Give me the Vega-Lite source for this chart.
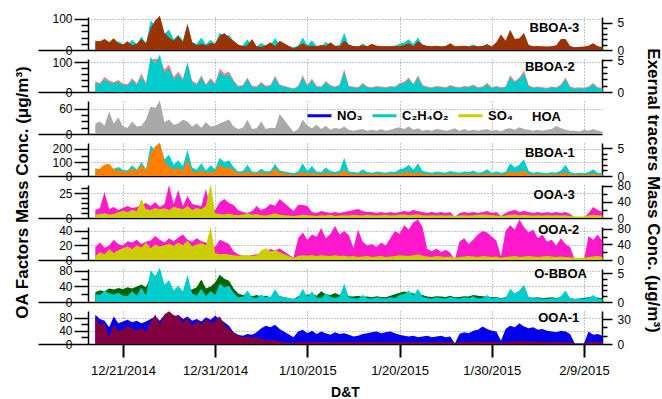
{
"$schema": "https://vega.github.io/schema/vega-lite/v6.json",
"padding": {"left": 12, "top": 12, "right": 0, "bottom": 0},
"background": "white",
"config": {
 "font": "Liberation Sans",
 "view": {"stroke": null},
 "axis": {"labelFont": "Liberation Sans", "labelFontSize": 12, "labelColor": "#000", "tickColor": "#000", "domainColor": "#000", "tickWidth": 1.5, "domainWidth": 1.5, "titleFont": "Liberation Sans", "titleFontSize": 17, "titleFontWeight": "bold", "titleColor": "#000", "gridColor": "#8c8c8c", "gridDash": [1, 2], "gridWidth": 1, "gridOpacity": 1},
 "text": {"font": "Liberation Sans", "fontSize": 13, "fontWeight": "bold", "align": "right", "baseline": "middle", "color": "#000"}
},
"datasets": {
"leg": [{"s": "NO₃"}, {"s": "C₂H₄O₂"}, {"s": "SO₄"}],
"d": [
{"t":"2014-12-18T00:00","b3":30,"b2":36,"h":25,"b1":45,"o3":8,"s3":8,"o2":18,"s2":10,"ob":25,"c":1.4,"o1":85,"n":35},
{"t":"2014-12-18T12:00","b3":28,"b2":30,"h":30,"b1":55,"o3":10,"s3":10,"o2":24,"s2":20,"ob":30,"c":1.2,"o1":60,"n":30},
{"t":"2014-12-19T00:00","b3":35,"b2":50,"h":20,"b1":84,"o3":26,"s3":12,"o2":17,"s2":15,"ob":28,"c":2.0,"o1":64,"n":28},
{"t":"2014-12-19T12:00","b3":25,"b2":38,"h":54,"b1":90,"o3":9,"s3":9,"o2":20,"s2":28,"ob":35,"c":1.5,"o1":18,"n":20},
{"t":"2014-12-20T00:00","b3":38,"b2":33,"h":25,"b1":50,"o3":11,"s3":10,"o2":28,"s2":18,"ob":32,"c":1.3,"o1":60,"n":33},
{"t":"2014-12-20T12:00","b3":22,"b2":40,"h":40,"b1":40,"o3":8,"s3":14,"o2":22,"s2":25,"ob":36,"c":1.6,"o1":39,"n":25},
{"t":"2014-12-21T00:00","b3":18,"b2":28,"h":18,"b1":35,"o3":10,"s3":18,"o2":20,"s2":30,"ob":33,"c":1.1,"o1":45,"n":27},
{"t":"2014-12-21T12:00","b3":28,"b2":26,"h":15,"b1":30,"o3":12,"s3":15,"o2":26,"s2":35,"ob":38,"c":1.0,"o1":55,"n":29},
{"t":"2014-12-22T00:00","b3":15,"b2":46,"h":30,"b1":60,"o3":10,"s3":20,"o2":24,"s2":28,"ob":35,"c":1.9,"o1":48,"n":26},
{"t":"2014-12-22T12:00","b3":20,"b2":28,"h":18,"b1":35,"o3":11,"s3":17,"o2":28,"s2":38,"ob":40,"c":1.1,"o1":40,"n":28},
{"t":"2014-12-23T00:00","b3":35,"b2":62,"h":20,"b1":84,"o3":13,"s3":47,"o2":22,"s2":32,"ob":45,"c":2.5,"o1":50,"n":25},
{"t":"2014-12-23T12:00","b3":22,"b2":30,"h":35,"b1":40,"o3":15,"s3":22,"o2":25,"s2":45,"ob":38,"c":1.2,"o1":38,"n":27},
{"t":"2014-12-24T00:00","b3":70,"b2":105,"h":66,"b1":170,"o3":12,"s3":20,"o2":27,"s2":30,"ob":66,"c":5.5,"o1":65,"n":30},
{"t":"2014-12-24T12:00","b3":95,"b2":112,"h":62,"b1":220,"o3":16,"s3":25,"o2":33,"s2":40,"ob":55,"c":4.5,"o1":90,"n":33},
{"t":"2014-12-25T00:00","b3":110,"b2":108,"h":80,"b1":245,"o3":11,"s3":22,"o2":28,"s2":35,"ob":60,"c":5.9,"o1":60,"n":28},
{"t":"2014-12-25T12:00","b3":55,"b2":75,"h":28,"b1":110,"o3":14,"s3":24,"o2":24,"s2":38,"ob":35,"c":3.0,"o1":90,"n":35},
{"t":"2014-12-26T00:00","b3":40,"b2":92,"h":35,"b1":70,"o3":33,"s3":20,"o2":30,"s2":42,"ob":30,"c":3.8,"o1":100,"n":30},
{"t":"2014-12-26T12:00","b3":30,"b2":50,"h":22,"b1":50,"o3":14,"s3":28,"o2":26,"s2":36,"ob":28,"c":2.0,"o1":88,"n":32},
{"t":"2014-12-27T00:00","b3":45,"b2":68,"h":25,"b1":60,"o3":28,"s3":25,"o2":31,"s2":45,"ob":32,"c":2.8,"o1":85,"n":35},
{"t":"2014-12-27T12:00","b3":25,"b2":45,"h":34,"b1":40,"o3":12,"s3":22,"o2":35,"s2":38,"ob":25,"c":1.8,"o1":65,"n":30},
{"t":"2014-12-28T00:00","b3":85,"b2":95,"h":30,"b1":120,"o3":22,"s3":30,"o2":28,"s2":50,"ob":35,"c":4.7,"o1":80,"n":33},
{"t":"2014-12-28T12:00","b3":25,"b2":38,"h":18,"b1":35,"o3":14,"s3":20,"o2":25,"s2":35,"ob":32,"c":1.5,"o1":55,"n":28},
{"t":"2014-12-29T00:00","b3":15,"b2":28,"h":25,"b1":27,"o3":13,"s3":25,"o2":30,"s2":40,"ob":38,"c":1.1,"o1":70,"n":30},
{"t":"2014-12-29T12:00","b3":20,"b2":56,"h":15,"b1":40,"o3":12,"s3":22,"o2":26,"s2":44,"ob":58,"c":2.3,"o1":60,"n":27},
{"t":"2014-12-30T00:00","b3":15,"b2":26,"h":28,"b1":25,"o3":29,"s3":30,"o2":24,"s2":38,"ob":35,"c":1.0,"o1":75,"n":32},
{"t":"2014-12-30T12:00","b3":22,"b2":47,"h":18,"b1":30,"o3":10,"s3":85,"o2":20,"s2":85,"ob":40,"c":1.9,"o1":65,"n":29},
{"t":"2014-12-31T00:00","b3":20,"b2":30,"h":20,"b1":35,"o3":8,"s3":12,"o2":18,"s2":18,"ob":50,"c":1.2,"o1":70,"n":34},
{"t":"2014-12-31T12:00","b3":45,"b2":78,"h":25,"b1":84,"o3":16,"s3":10,"o2":28,"s2":15,"ob":70,"c":3.2,"o1":85,"n":30},
{"t":"2015-01-01T00:00","b3":55,"b2":62,"h":30,"b1":60,"o3":19,"s3":9,"o2":25,"s2":16,"ob":60,"c":2.5,"o1":60,"n":26},
{"t":"2015-01-01T12:00","b3":40,"b2":68,"h":35,"b1":65,"o3":15,"s3":11,"o2":22,"s2":14,"ob":55,"c":2.8,"o1":45,"n":22},
{"t":"2015-01-02T00:00","b3":30,"b2":40,"h":18,"b1":40,"o3":13,"s3":8,"o2":12,"s2":12,"ob":35,"c":1.6,"o1":35,"n":14},
{"t":"2015-01-02T12:00","b3":18,"b2":21,"h":12,"b1":22,"o3":8,"s3":7,"o2":8,"s2":11,"ob":22,"c":0.8,"o1":25,"n":11},
{"t":"2015-01-03T00:00","b3":12,"b2":23,"h":15,"b1":20,"o3":6,"s3":9,"o2":6,"s2":12,"ob":18,"c":0.9,"o1":20,"n":10},
{"t":"2015-01-03T12:00","b3":15,"b2":48,"h":34,"b1":35,"o3":5,"s3":12,"o2":5,"s2":13,"ob":20,"c":2.0,"o1":22,"n":12},
{"t":"2015-01-04T00:00","b3":35,"b2":21,"h":12,"b1":18,"o3":7,"s3":8,"o2":7,"s2":11,"ob":15,"c":0.8,"o1":18,"n":11},
{"t":"2015-01-04T12:00","b3":12,"b2":19,"h":14,"b1":22,"o3":12,"s3":10,"o2":8,"s2":12,"ob":18,"c":0.7,"o1":20,"n":14},
{"t":"2015-01-05T00:00","b3":10,"b2":33,"h":30,"b1":25,"o3":8,"s3":7,"o2":6,"s2":25,"ob":14,"c":1.3,"o1":15,"n":19},
{"t":"2015-01-05T12:00","b3":15,"b2":21,"h":12,"b1":20,"o3":10,"s3":6,"o2":12,"s2":30,"ob":16,"c":0.8,"o1":12,"n":22},
{"t":"2015-01-06T00:00","b3":25,"b2":23,"h":15,"b1":22,"o3":14,"s3":9,"o2":15,"s2":22,"ob":12,"c":0.9,"o1":10,"n":20},
{"t":"2015-01-06T12:00","b3":12,"b2":54,"h":14,"b1":60,"o3":12,"s3":12,"o2":13,"s2":26,"ob":20,"c":2.2,"o1":12,"n":23},
{"t":"2015-01-07T00:00","b3":30,"b2":25,"h":48,"b1":25,"o3":19,"s3":8,"o2":16,"s2":20,"ob":15,"c":1.0,"o1":8,"n":18},
{"t":"2015-01-08T12:00","b3":5,"b2":12,"h":5,"b1":10,"o3":7,"s3":5,"o2":3,"s2":5,"ob":8,"c":0.5,"o1":3,"n":8},
{"t":"2015-01-09T00:00","b3":12,"b2":20,"h":12,"b1":18,"o3":13,"s3":6,"o2":30,"s2":10,"ob":15,"c":0.8,"o1":6,"n":15},
{"t":"2015-01-09T12:00","b3":22,"b2":56,"h":35,"b1":30,"o3":13,"s3":8,"o2":38,"s2":12,"ob":20,"c":2.3,"o1":5,"n":17},
{"t":"2015-01-10T00:00","b3":13,"b2":23,"h":20,"b1":20,"o3":12,"s3":7,"o2":28,"s2":11,"ob":18,"c":0.9,"o1":6,"n":13},
{"t":"2015-01-10T12:00","b3":14,"b2":44,"h":14,"b1":22,"o3":6,"s3":6,"o2":35,"s2":13,"ob":22,"c":1.8,"o1":5,"n":16},
{"t":"2015-01-11T00:00","b3":12,"b2":21,"h":22,"b1":18,"o3":5,"s3":5,"o2":32,"s2":10,"ob":16,"c":0.8,"o1":7,"n":12},
{"t":"2015-01-11T12:00","b3":16,"b2":18,"h":12,"b1":15,"o3":7,"s3":7,"o2":44,"s2":12,"ob":28,"c":0.7,"o1":6,"n":15},
{"t":"2015-01-12T00:00","b3":13,"b2":37,"h":20,"b1":25,"o3":6,"s3":6,"o2":30,"s2":11,"ob":20,"c":1.5,"o1":5,"n":13},
{"t":"2015-01-12T12:00","b3":25,"b2":23,"h":10,"b1":18,"o3":5,"s3":8,"o2":36,"s2":10,"ob":18,"c":0.9,"o1":6,"n":11},
{"t":"2015-01-13T00:00","b3":14,"b2":18,"h":15,"b1":15,"o3":6,"s3":5,"o2":47,"s2":12,"ob":23,"c":0.7,"o1":5,"n":14},
{"t":"2015-01-13T12:00","b3":12,"b2":25,"h":12,"b1":20,"o3":5,"s3":6,"o2":35,"s2":10,"ob":18,"c":1.0,"o1":6,"n":12},
{"t":"2015-01-14T00:00","b3":30,"b2":76,"h":18,"b1":45,"o3":6,"s3":7,"o2":40,"s2":11,"ob":30,"c":3.2,"o1":7,"n":13},
{"t":"2015-01-14T12:00","b3":18,"b2":20,"h":10,"b1":20,"o3":7,"s3":6,"o2":34,"s2":9,"ob":15,"c":0.8,"o1":6,"n":11},
{"t":"2015-01-15T00:00","b3":13,"b2":18,"h":8,"b1":15,"o3":8,"s3":8,"o2":17,"s2":10,"ob":14,"c":0.7,"o1":5,"n":9},
{"t":"2015-01-15T12:00","b3":12,"b2":16,"h":10,"b1":14,"o3":9,"s3":7,"o2":42,"s2":8,"ob":16,"c":0.6,"o1":6,"n":10},
{"t":"2015-01-16T00:00","b3":15,"b2":30,"h":12,"b1":18,"o3":7,"s3":6,"o2":25,"s2":9,"ob":13,"c":1.2,"o1":7,"n":12},
{"t":"2015-01-16T12:00","b3":12,"b2":18,"h":8,"b1":15,"o3":6,"s3":8,"o2":20,"s2":10,"ob":14,"c":0.7,"o1":6,"n":13},
{"t":"2015-01-17T00:00","b3":20,"b2":16,"h":10,"b1":14,"o3":6,"s3":7,"o2":22,"s2":8,"ob":12,"c":0.6,"o1":5,"n":14},
{"t":"2015-01-17T12:00","b3":14,"b2":20,"h":8,"b1":16,"o3":5,"s3":6,"o2":18,"s2":9,"ob":15,"c":0.8,"o1":6,"n":15},
{"t":"2015-01-18T00:00","b3":12,"b2":18,"h":12,"b1":15,"o3":6,"s3":7,"o2":24,"s2":10,"ob":13,"c":0.7,"o1":7,"n":13},
{"t":"2015-01-18T12:00","b3":13,"b2":16,"h":8,"b1":13,"o3":5,"s3":8,"o2":20,"s2":8,"ob":12,"c":0.6,"o1":6,"n":14},
{"t":"2015-01-19T00:00","b3":11,"b2":20,"h":10,"b1":15,"o3":6,"s3":6,"o2":30,"s2":9,"ob":16,"c":0.8,"o1":5,"n":15},
{"t":"2015-01-19T12:00","b3":14,"b2":18,"h":14,"b1":14,"o3":5,"s3":7,"o2":40,"s2":10,"ob":20,"c":0.7,"o1":6,"n":13},
{"t":"2015-01-20T00:00","b3":12,"b2":30,"h":16,"b1":20,"o3":6,"s3":8,"o2":36,"s2":12,"ob":24,"c":1.2,"o1":5,"n":11},
{"t":"2015-01-20T12:00","b3":16,"b2":34,"h":12,"b1":22,"o3":7,"s3":9,"o2":48,"s2":11,"ob":27,"c":1.4,"o1":6,"n":10},
{"t":"2015-01-21T00:00","b3":22,"b2":48,"h":18,"b1":35,"o3":6,"s3":7,"o2":42,"s2":10,"ob":25,"c":2.0,"o1":5,"n":9},
{"t":"2015-01-21T12:00","b3":12,"b2":27,"h":10,"b1":18,"o3":8,"s3":8,"o2":52,"s2":12,"ob":22,"c":1.1,"o1":6,"n":10},
{"t":"2015-01-22T00:00","b3":28,"b2":56,"h":14,"b1":30,"o3":7,"s3":9,"o2":56,"s2":14,"ob":20,"c":2.3,"o1":5,"n":8},
{"t":"2015-01-22T12:00","b3":18,"b2":23,"h":8,"b1":16,"o3":6,"s3":7,"o2":45,"s2":11,"ob":18,"c":0.9,"o1":6,"n":9},
{"t":"2015-01-23T00:00","b3":13,"b2":18,"h":10,"b1":14,"o3":5,"s3":6,"o2":15,"s2":9,"ob":14,"c":0.7,"o1":5,"n":10},
{"t":"2015-01-23T12:00","b3":12,"b2":16,"h":8,"b1":12,"o3":6,"s3":7,"o2":12,"s2":8,"ob":13,"c":0.6,"o1":6,"n":8},
{"t":"2015-01-24T00:00","b3":14,"b2":20,"h":12,"b1":15,"o3":5,"s3":6,"o2":16,"s2":10,"ob":15,"c":0.8,"o1":5,"n":9},
{"t":"2015-01-24T12:00","b3":11,"b2":18,"h":10,"b1":13,"o3":6,"s3":7,"o2":11,"s2":9,"ob":14,"c":0.7,"o1":6,"n":10},
{"t":"2015-01-25T00:00","b3":13,"b2":16,"h":8,"b1":12,"o3":5,"s3":6,"o2":14,"s2":8,"ob":13,"c":0.6,"o1":5,"n":8},
{"t":"2015-01-25T12:00","b3":22,"b2":23,"h":10,"b1":15,"o3":6,"s3":7,"o2":10,"s2":9,"ob":16,"c":0.9,"o1":6,"n":9},
{"t":"2015-01-26T00:00","b3":12,"b2":18,"h":14,"b1":13,"o3":1,"s3":5,"o2":0.5,"s2":6,"ob":12,"c":0.7,"o1":2,"n":0.5},
{"t":"2015-01-26T12:00","b3":13,"b2":16,"h":8,"b1":12,"o3":5,"s3":6,"o2":25,"s2":8,"ob":13,"c":0.6,"o1":6,"n":12},
{"t":"2015-01-27T00:00","b3":14,"b2":20,"h":12,"b1":14,"o3":6,"s3":7,"o2":30,"s2":9,"ob":15,"c":0.8,"o1":7,"n":14},
{"t":"2015-01-27T12:00","b3":11,"b2":18,"h":8,"b1":12,"o3":5,"s3":6,"o2":22,"s2":10,"ob":14,"c":0.7,"o1":6,"n":13},
{"t":"2015-01-28T00:00","b3":14,"b2":25,"h":10,"b1":16,"o3":6,"s3":7,"o2":28,"s2":9,"ob":18,"c":1.0,"o1":7,"n":16},
{"t":"2015-01-28T12:00","b3":12,"b2":16,"h":8,"b1":12,"o3":5,"s3":8,"o2":35,"s2":8,"ob":16,"c":0.6,"o1":8,"n":17},
{"t":"2015-01-29T00:00","b3":13,"b2":18,"h":10,"b1":13,"o3":6,"s3":9,"o2":40,"s2":10,"ob":15,"c":0.7,"o1":7,"n":21},
{"t":"2015-01-29T12:00","b3":18,"b2":30,"h":12,"b1":18,"o3":7,"s3":8,"o2":38,"s2":9,"ob":14,"c":1.2,"o1":6,"n":18},
{"t":"2015-01-30T00:00","b3":11,"b2":16,"h":8,"b1":12,"o3":5,"s3":7,"o2":32,"s2":8,"ob":12,"c":0.6,"o1":7,"n":16},
{"t":"2015-01-30T12:00","b3":25,"b2":20,"h":10,"b1":14,"o3":6,"s3":6,"o2":27,"s2":9,"ob":13,"c":0.8,"o1":6,"n":15},
{"t":"2015-01-31T00:00","b3":50,"b2":16,"h":6,"b1":12,"o3":2,"s3":5,"o2":5,"s2":6,"ob":10,"c":0.6,"o1":2,"n":4},
{"t":"2015-01-31T12:00","b3":30,"b2":18,"h":12,"b1":14,"o3":5,"s3":6,"o2":40,"s2":8,"ob":12,"c":0.7,"o1":7,"n":18},
{"t":"2015-02-01T00:00","b3":65,"b2":56,"h":14,"b1":35,"o3":7,"s3":8,"o2":48,"s2":9,"ob":18,"c":2.3,"o1":8,"n":22},
{"t":"2015-02-01T12:00","b3":35,"b2":37,"h":10,"b1":25,"o3":8,"s3":9,"o2":42,"s2":10,"ob":15,"c":1.5,"o1":7,"n":20},
{"t":"2015-02-02T00:00","b3":38,"b2":48,"h":16,"b1":30,"o3":6,"s3":7,"o2":56,"s2":8,"ob":20,"c":2.0,"o1":9,"n":25},
{"t":"2015-02-02T12:00","b3":55,"b2":72,"h":12,"b1":40,"o3":7,"s3":8,"o2":45,"s2":9,"ob":16,"c":3.0,"o1":8,"n":21},
{"t":"2015-02-03T00:00","b3":16,"b2":23,"h":10,"b1":15,"o3":6,"s3":7,"o2":38,"s2":10,"ob":12,"c":0.9,"o1":7,"n":19},
{"t":"2015-02-03T12:00","b3":12,"b2":16,"h":8,"b1":12,"o3":5,"s3":6,"o2":42,"s2":9,"ob":11,"c":0.6,"o1":8,"n":20},
{"t":"2015-02-04T00:00","b3":13,"b2":18,"h":10,"b1":13,"o3":6,"s3":7,"o2":30,"s2":8,"ob":12,"c":0.7,"o1":7,"n":17},
{"t":"2015-02-04T12:00","b3":12,"b2":16,"h":8,"b1":12,"o3":5,"s3":6,"o2":35,"s2":9,"ob":10,"c":0.6,"o1":6,"n":18},
{"t":"2015-02-05T00:00","b3":11,"b2":14,"h":10,"b1":10,"o3":6,"s3":7,"o2":25,"s2":10,"ob":11,"c":0.5,"o1":7,"n":16},
{"t":"2015-02-05T12:00","b3":12,"b2":18,"h":12,"b1":12,"o3":5,"s3":6,"o2":28,"s2":9,"ob":12,"c":0.7,"o1":6,"n":15},
{"t":"2015-02-06T00:00","b3":15,"b2":16,"h":19,"b1":12,"o3":6,"s3":7,"o2":20,"s2":8,"ob":10,"c":0.6,"o1":5,"n":14},
{"t":"2015-02-06T12:00","b3":35,"b2":25,"h":14,"b1":18,"o3":5,"s3":6,"o2":30,"s2":9,"ob":12,"c":1.0,"o1":6,"n":16},
{"t":"2015-02-07T00:00","b3":35,"b2":48,"h":10,"b1":30,"o3":6,"s3":7,"o2":22,"s2":8,"ob":14,"c":2.0,"o1":5,"n":15},
{"t":"2015-02-07T12:00","b3":12,"b2":18,"h":8,"b1":12,"o3":4,"s3":5,"o2":18,"s2":7,"ob":10,"c":0.7,"o1":5,"n":12},
{"t":"2015-02-08T00:00","b3":9,"b2":14,"h":8,"b1":10,"o3":0.5,"s3":4,"o2":0.5,"s2":6,"ob":8,"c":0.5,"o1":1,"n":0.5},
{"t":"2015-02-08T12:00","b3":10,"b2":16,"h":6,"b1":11,"o3":0.5,"s3":4,"o2":0.5,"s2":6,"ob":9,"c":0.6,"o1":1,"n":0.5},
{"t":"2015-02-09T00:00","b3":11,"b2":14,"h":10,"b1":10,"o3":0.5,"s3":4,"o2":0.5,"s2":6,"ob":10,"c":0.5,"o1":1,"n":0.5},
{"t":"2015-02-09T12:00","b3":14,"b2":18,"h":8,"b1":12,"o3":5,"s3":6,"o2":33,"s2":8,"ob":12,"c":0.7,"o1":6,"n":15},
{"t":"2015-02-10T00:00","b3":22,"b2":30,"h":12,"b1":20,"o3":11,"s3":8,"o2":28,"s2":9,"ob":14,"c":1.2,"o1":7,"n":11},
{"t":"2015-02-10T12:00","b3":12,"b2":16,"h":8,"b1":12,"o3":8,"s3":7,"o2":35,"s2":10,"ob":11,"c":0.6,"o1":6,"n":12},
{"t":"2015-02-11T00:00","b3":10,"b2":14,"h":6,"b1":10,"o3":6,"s3":6,"o2":26,"s2":8,"ob":10,"c":0.5,"o1":5,"n":10}
]
},
"spacing": 9,
"bounds": "flush",
"resolve": {"scale": {"color": "independent"}, "legend": {"color": "independent"}},
"vconcat": [
{
 "width": 514, "height": 33, "data": {"name": "d"},
 "encoding": {"x": {"field": "t", "type": "temporal", "scale": {"domain": [{"year":2014,"month":12,"date":17,"hours":5},{"year":2015,"month":2,"date":10,"hours":23}]}, "axis": {"values": [{"year":2014,"month":12,"date":21},{"year":2014,"month":12,"date":31},{"year":2015,"month":1,"date":10},{"year":2015,"month":1,"date":20},{"year":2015,"month":1,"date":30},{"year":2015,"month":2,"date":9}], "labels": false, "ticks": false, "grid": true, "title": null}}},
 "resolve": {"scale": {"y": "independent"}},
 "layer": [
  {"mark": {"type": "area", "color": "#00cccc"}, "encoding": {"y": {"field": "c", "type": "quantitative", "scale": {"domain": [0, 6.1], "nice": false}, "axis": {"orient": "right", "values": [0, 5], "tickSize": 10, "labelPadding": 5, "grid": false, "title": null}}}},
  {"mark": {"type": "area", "color": "#993300"}, "encoding": {"y": {"field": "b3", "type": "quantitative", "scale": {"domain": [0, 106], "nice": false}, "axis": {"orient": "left", "values": [100], "tickSize": 14, "labelPadding": 2, "grid": true, "title": null}}}},
  {"data": {"values": [{}]}, "mark": "point", "encoding": {"y": {"datum": 0, "type": "quantitative", "scale": {"domain": [0, 106], "nice": false}, "axis": {"orient": "left", "values": [20, 40, 60, 80], "tickSize": 7, "labels": false, "domain": false, "grid": false, "title": null}}}},
  {"data": {"values": [{}]}, "mark": "point", "encoding": {"y": {"datum": 0, "type": "quantitative", "scale": {"domain": [0, 106], "nice": false}, "axis": {"orient": "left", "values": [0], "tickSize": 50, "labelPadding": -34, "domain": false, "grid": false, "title": null}}}},
  {"data": {"values": [{}]}, "mark": "point", "encoding": {"y": {"datum": 0, "type": "quantitative", "scale": {"domain": [0, 6.1], "nice": false}, "axis": {"orient": "right", "values": [1, 2, 3, 4], "tickSize": 5, "labels": false, "domain": false, "grid": false, "title": null}}}},
  {"transform": [{"filter": {"field": "t", "equal": {"year":2015,"month":2,"date":8,"hours":12}}}], "mark": {"type": "text", "text": "BBOA-3"}, "encoding": {"y": {"datum": 71, "type": "quantitative", "scale": {"domain": [0, 106], "nice": false}, "axis": null}}}
 ]
},
{
 "width": 514, "height": 33, "data": {"name": "d"},
 "encoding": {"x": {"field": "t", "type": "temporal", "scale": {"domain": [{"year":2014,"month":12,"date":17,"hours":5},{"year":2015,"month":2,"date":10,"hours":23}]}, "axis": {"values": [{"year":2014,"month":12,"date":21},{"year":2014,"month":12,"date":31},{"year":2015,"month":1,"date":10},{"year":2015,"month":1,"date":20},{"year":2015,"month":1,"date":30},{"year":2015,"month":2,"date":9}], "labels": false, "ticks": false, "grid": true, "title": null}}},
 "resolve": {"scale": {"y": "independent"}},
 "layer": [
  {"mark": {"type": "area", "color": "#ff8080"}, "encoding": {"y": {"field": "b2", "type": "quantitative", "scale": {"domain": [0, 110], "nice": false}, "axis": {"orient": "left", "values": [100], "tickSize": 14, "labelPadding": 2, "grid": true, "title": null}}}},
  {"mark": {"type": "area", "color": "#00cccc"}, "encoding": {"y": {"field": "c", "type": "quantitative", "scale": {"domain": [0, 5.2], "nice": false}, "axis": {"orient": "right", "values": [0, 5], "tickSize": 10, "labelPadding": 5, "grid": false, "title": null}}}},
  {"data": {"values": [{}]}, "mark": "point", "encoding": {"y": {"datum": 0, "type": "quantitative", "scale": {"domain": [0, 110], "nice": false}, "axis": {"orient": "left", "values": [20, 40, 60, 80], "tickSize": 7, "labels": false, "domain": false, "grid": false, "title": null}}}},
  {"data": {"values": [{}]}, "mark": "point", "encoding": {"y": {"datum": 0, "type": "quantitative", "scale": {"domain": [0, 110], "nice": false}, "axis": {"orient": "left", "values": [0], "tickSize": 50, "labelPadding": -34, "domain": false, "grid": false, "title": null}}}},
  {"data": {"values": [{}]}, "mark": "point", "encoding": {"y": {"datum": 0, "type": "quantitative", "scale": {"domain": [0, 5.2], "nice": false}, "axis": {"orient": "right", "values": [1, 2, 3, 4], "tickSize": 5, "labels": false, "domain": false, "grid": false, "title": null}}}},
  {"transform": [{"filter": {"field": "t", "equal": {"year":2015,"month":2,"date":8,"hours":0}}}], "mark": {"type": "text", "text": "BBOA-2"}, "encoding": {"y": {"datum": 83, "type": "quantitative", "scale": {"domain": [0, 110], "nice": false}, "axis": null}}}
 ]
},
{
 "width": 514, "height": 33, "data": {"name": "d"},
 "encoding": {"x": {"field": "t", "type": "temporal", "scale": {"domain": [{"year":2014,"month":12,"date":17,"hours":5},{"year":2015,"month":2,"date":10,"hours":23}]}, "axis": {"values": [{"year":2014,"month":12,"date":21},{"year":2014,"month":12,"date":31},{"year":2015,"month":1,"date":10},{"year":2015,"month":1,"date":20},{"year":2015,"month":1,"date":30},{"year":2015,"month":2,"date":9}], "labels": false, "ticks": false, "grid": true, "title": null}}},
 "resolve": {"scale": {"y": "independent"}},
 "layer": [
  {"mark": {"type": "area", "color": "#a9a9a9"}, "encoding": {"y": {"field": "h", "type": "quantitative", "scale": {"domain": [0, 79], "nice": false}, "axis": {"orient": "left", "values": [60], "tickSize": 14, "labelPadding": 2, "grid": true, "title": null}}}},
  {"data": {"values": [{}]}, "mark": "point", "encoding": {"y": {"datum": 0, "type": "quantitative", "scale": {"domain": [0, 79], "nice": false}, "axis": {"orient": "left", "values": [15, 30, 45], "tickSize": 7, "labels": false, "domain": false, "grid": false, "title": null}}}},
  {"data": {"values": [{}]}, "mark": "point", "encoding": {"y": {"datum": 0, "type": "quantitative", "scale": {"domain": [0, 79], "nice": false}, "axis": {"orient": "left", "values": [0], "tickSize": 50, "labelPadding": -34, "domain": false, "grid": false, "title": null}}}},
  {"data": {"name": "leg"}, "mark": "point", "encoding": {"color": {"field": "s", "type": "nominal", "scale": {"domain": ["NO₃", "C₂H₄O₂", "SO₄"], "range": ["#0000ee", "#00cccc", "#cccc00"]}, "legend": {"title": null, "orient": "none", "legendX": 218, "legendY": 1, "direction": "horizontal", "symbolType": "stroke", "symbolSize": 576, "symbolStrokeWidth": 3, "symbolOpacity": 1, "labelFont": "Liberation Sans", "labelFontSize": 13, "labelFontWeight": "bold", "labelColor": "#000", "columnPadding": 3, "labelOffset": 4, "padding": 0}}}},
  {"transform": [{"filter": {"field": "t", "equal": {"year":2015,"month":2,"date":6,"hours":12}}}], "mark": {"type": "text", "text": "HOA"}, "encoding": {"y": {"datum": 41, "type": "quantitative", "scale": {"domain": [0, 79], "nice": false}, "axis": null}}}
 ]
},
{
 "width": 514, "height": 33, "data": {"name": "d"},
 "encoding": {"x": {"field": "t", "type": "temporal", "scale": {"domain": [{"year":2014,"month":12,"date":17,"hours":5},{"year":2015,"month":2,"date":10,"hours":23}]}, "axis": {"values": [{"year":2014,"month":12,"date":21},{"year":2014,"month":12,"date":31},{"year":2015,"month":1,"date":10},{"year":2015,"month":1,"date":20},{"year":2015,"month":1,"date":30},{"year":2015,"month":2,"date":9}], "labels": false, "ticks": false, "grid": true, "title": null}}},
 "resolve": {"scale": {"y": "independent"}},
 "layer": [
  {"mark": {"type": "area", "color": "#00cccc"}, "encoding": {"y": {"field": "c", "type": "quantitative", "scale": {"domain": [0, 5.9], "nice": false}, "axis": {"orient": "right", "values": [0, 5], "tickSize": 10, "labelPadding": 5, "grid": false, "title": null}}}},
  {"mark": {"type": "area", "color": "#ff8000"}, "encoding": {"y": {"field": "b1", "type": "quantitative", "scale": {"domain": [0, 244], "nice": false}, "axis": {"orient": "left", "values": [100, 200], "tickSize": 14, "labelPadding": 2, "grid": true, "title": null}}}},
  {"data": {"values": [{}]}, "mark": "point", "encoding": {"y": {"datum": 0, "type": "quantitative", "scale": {"domain": [0, 244], "nice": false}, "axis": {"orient": "left", "values": [50, 150], "tickSize": 7, "labels": false, "domain": false, "grid": false, "title": null}}}},
  {"data": {"values": [{}]}, "mark": "point", "encoding": {"y": {"datum": 0, "type": "quantitative", "scale": {"domain": [0, 244], "nice": false}, "axis": {"orient": "left", "values": [0], "tickSize": 50, "labelPadding": -34, "domain": false, "grid": false, "title": null}}}},
  {"data": {"values": [{}]}, "mark": "point", "encoding": {"y": {"datum": 0, "type": "quantitative", "scale": {"domain": [0, 5.9], "nice": false}, "axis": {"orient": "right", "values": [1, 2, 3, 4], "tickSize": 5, "labels": false, "domain": false, "grid": false, "title": null}}}},
  {"transform": [{"filter": {"field": "t", "equal": {"year":2015,"month":2,"date":8,"hours":0}}}], "mark": {"type": "text", "text": "BBOA-1"}, "encoding": {"y": {"datum": 170, "type": "quantitative", "scale": {"domain": [0, 244], "nice": false}, "axis": null}}}
 ]
},
{
 "width": 514, "height": 33, "data": {"name": "d"},
 "encoding": {"x": {"field": "t", "type": "temporal", "scale": {"domain": [{"year":2014,"month":12,"date":17,"hours":5},{"year":2015,"month":2,"date":10,"hours":23}]}, "axis": {"values": [{"year":2014,"month":12,"date":21},{"year":2014,"month":12,"date":31},{"year":2015,"month":1,"date":10},{"year":2015,"month":1,"date":20},{"year":2015,"month":1,"date":30},{"year":2015,"month":2,"date":9}], "labels": false, "ticks": false, "grid": true, "title": null}}},
 "resolve": {"scale": {"y": "independent"}},
 "layer": [
  {"mark": {"type": "area", "color": "#ff19cc"}, "encoding": {"y": {"field": "o3", "type": "quantitative", "scale": {"domain": [0, 33], "nice": false}, "axis": {"orient": "left", "values": [25], "tickSize": 14, "labelPadding": 2, "grid": true, "title": "OA Factors Mass Conc. (μg/m³)", "titleAngle": 270, "titleX": -66, "titleY": 7, "titleAlign": "center", "titleBaseline": "middle"}}}},
  {"mark": {"type": "area", "color": "#cccc00"}, "encoding": {"y": {"field": "s3", "type": "quantitative", "scale": {"domain": [0, 82], "nice": false}, "axis": {"orient": "right", "values": [0, 40, 80], "tickSize": 10, "labelPadding": 5, "grid": false, "title": "Exernal tracers Mass Conc. (μg/m³)", "titleAngle": 90, "titleX": 50, "titleY": 5, "titleAlign": "center", "titleBaseline": "middle"}}}},
  {"data": {"values": [{}]}, "mark": "point", "encoding": {"y": {"datum": 0, "type": "quantitative", "scale": {"domain": [0, 33], "nice": false}, "axis": {"orient": "left", "values": [5, 10, 15, 20, 30], "tickSize": 7, "labels": false, "domain": false, "grid": false, "title": null}}}},
  {"data": {"values": [{}]}, "mark": "point", "encoding": {"y": {"datum": 0, "type": "quantitative", "scale": {"domain": [0, 33], "nice": false}, "axis": {"orient": "left", "values": [0], "tickSize": 50, "labelPadding": -34, "domain": false, "grid": false, "title": null}}}},
  {"data": {"values": [{}]}, "mark": "point", "encoding": {"y": {"datum": 0, "type": "quantitative", "scale": {"domain": [0, 82], "nice": false}, "axis": {"orient": "right", "values": [20, 60], "tickSize": 5, "labels": false, "domain": false, "grid": false, "title": null}}}},
  {"transform": [{"filter": {"field": "t", "equal": {"year":2015,"month":2,"date":8,"hours":0}}}], "mark": {"type": "text", "text": "OOA-3"}, "encoding": {"y": {"datum": 23, "type": "quantitative", "scale": {"domain": [0, 33], "nice": false}, "axis": null}}}
 ]
},
{
 "width": 514, "height": 33, "data": {"name": "d"},
 "encoding": {"x": {"field": "t", "type": "temporal", "scale": {"domain": [{"year":2014,"month":12,"date":17,"hours":5},{"year":2015,"month":2,"date":10,"hours":23}]}, "axis": {"values": [{"year":2014,"month":12,"date":21},{"year":2014,"month":12,"date":31},{"year":2015,"month":1,"date":10},{"year":2015,"month":1,"date":20},{"year":2015,"month":1,"date":30},{"year":2015,"month":2,"date":9}], "labels": false, "ticks": false, "grid": true, "title": null}}},
 "resolve": {"scale": {"y": "independent"}},
 "layer": [
  {"mark": {"type": "area", "color": "#ff19cc"}, "encoding": {"y": {"field": "o2", "type": "quantitative", "scale": {"domain": [0, 45.5], "nice": false}, "axis": {"orient": "left", "values": [20, 40], "tickSize": 14, "labelPadding": 2, "grid": true, "title": null}}}},
  {"mark": {"type": "area", "color": "#cccc00"}, "encoding": {"y": {"field": "s2", "type": "quantitative", "scale": {"domain": [0, 85], "nice": false}, "axis": {"orient": "right", "values": [0, 40, 80], "tickSize": 10, "labelPadding": 5, "grid": false, "title": null}}}},
  {"data": {"values": [{}]}, "mark": "point", "encoding": {"y": {"datum": 0, "type": "quantitative", "scale": {"domain": [0, 45.5], "nice": false}, "axis": {"orient": "left", "values": [10, 30], "tickSize": 7, "labels": false, "domain": false, "grid": false, "title": null}}}},
  {"data": {"values": [{}]}, "mark": "point", "encoding": {"y": {"datum": 0, "type": "quantitative", "scale": {"domain": [0, 45.5], "nice": false}, "axis": {"orient": "left", "values": [0], "tickSize": 50, "labelPadding": -34, "domain": false, "grid": false, "title": null}}}},
  {"data": {"values": [{}]}, "mark": "point", "encoding": {"y": {"datum": 0, "type": "quantitative", "scale": {"domain": [0, 85], "nice": false}, "axis": {"orient": "right", "values": [20, 60], "tickSize": 5, "labels": false, "domain": false, "grid": false, "title": null}}}},
  {"transform": [{"filter": {"field": "t", "equal": {"year":2015,"month":2,"date":8,"hours":12}}}], "mark": {"type": "text", "text": "OOA-2"}, "encoding": {"y": {"datum": 41, "type": "quantitative", "scale": {"domain": [0, 45.5], "nice": false}, "axis": null}}}
 ]
},
{
 "width": 514, "height": 33, "data": {"name": "d"},
 "encoding": {"x": {"field": "t", "type": "temporal", "scale": {"domain": [{"year":2014,"month":12,"date":17,"hours":5},{"year":2015,"month":2,"date":10,"hours":23}]}, "axis": {"values": [{"year":2014,"month":12,"date":21},{"year":2014,"month":12,"date":31},{"year":2015,"month":1,"date":10},{"year":2015,"month":1,"date":20},{"year":2015,"month":1,"date":30},{"year":2015,"month":2,"date":9}], "labels": false, "ticks": false, "grid": true, "title": null}}},
 "resolve": {"scale": {"y": "independent"}},
 "layer": [
  {"mark": {"type": "area", "color": "#006400"}, "encoding": {"y": {"field": "ob", "type": "quantitative", "scale": {"domain": [0, 85], "nice": false}, "axis": {"orient": "left", "values": [40, 80], "tickSize": 14, "labelPadding": 2, "grid": true, "title": null}}}},
  {"mark": {"type": "area", "color": "#00cccc"}, "encoding": {"y": {"field": "c", "type": "quantitative", "scale": {"domain": [0, 5.7], "nice": false}, "axis": {"orient": "right", "values": [0, 5], "tickSize": 10, "labelPadding": 5, "grid": false, "title": null}}}},
  {"data": {"values": [{}]}, "mark": "point", "encoding": {"y": {"datum": 0, "type": "quantitative", "scale": {"domain": [0, 85], "nice": false}, "axis": {"orient": "left", "values": [20, 60], "tickSize": 7, "labels": false, "domain": false, "grid": false, "title": null}}}},
  {"data": {"values": [{}]}, "mark": "point", "encoding": {"y": {"datum": 0, "type": "quantitative", "scale": {"domain": [0, 85], "nice": false}, "axis": {"orient": "left", "values": [0], "tickSize": 50, "labelPadding": -34, "domain": false, "grid": false, "title": null}}}},
  {"data": {"values": [{}]}, "mark": "point", "encoding": {"y": {"datum": 0, "type": "quantitative", "scale": {"domain": [0, 5.7], "nice": false}, "axis": {"orient": "right", "values": [1, 2, 3, 4], "tickSize": 5, "labels": false, "domain": false, "grid": false, "title": null}}}},
  {"transform": [{"filter": {"field": "t", "equal": {"year":2015,"month":2,"date":9,"hours":0}}}], "mark": {"type": "text", "text": "O-BBOA", "dx": 3}, "encoding": {"y": {"datum": 72, "type": "quantitative", "scale": {"domain": [0, 85], "nice": false}, "axis": null}}}
 ]
},
{
 "width": 514, "height": 33, "data": {"name": "d"},
 "encoding": {"x": {"field": "t", "type": "temporal", "scale": {"domain": [{"year":2014,"month":12,"date":17,"hours":5},{"year":2015,"month":2,"date":10,"hours":23}]}, "axis": {"values": [{"year":2014,"month":12,"date":21},{"year":2014,"month":12,"date":31},{"year":2015,"month":1,"date":10},{"year":2015,"month":1,"date":20},{"year":2015,"month":1,"date":30},{"year":2015,"month":2,"date":9}], "format": "%-m/%-d/%Y", "labels": true, "ticks": true, "tickSize": 13, "tickWidth": 2, "labelFontSize": 13, "labelPadding": 7, "grid": true, "title": "D&T", "titleFontSize": 14, "titlePadding": 8}}},
 "resolve": {"scale": {"y": "independent"}},
 "layer": [
  {"mark": {"type": "area", "color": "#0000ee"}, "encoding": {"y": {"field": "n", "type": "quantitative", "scale": {"domain": [0, 39.6], "nice": false}, "axis": {"orient": "right", "values": [0, 30], "tickSize": 10, "labelPadding": 5, "grid": false, "title": null}}}},
  {"mark": {"type": "area", "color": "#800040"}, "encoding": {"y": {"field": "o1", "type": "quantitative", "scale": {"domain": [0, 101], "nice": false}, "axis": {"orient": "left", "values": [40, 80], "tickSize": 14, "labelPadding": 2, "grid": true, "title": null}}}},
  {"data": {"values": [{}]}, "mark": "point", "encoding": {"y": {"datum": 0, "type": "quantitative", "scale": {"domain": [0, 101], "nice": false}, "axis": {"orient": "left", "values": [20, 60], "tickSize": 7, "labels": false, "domain": false, "grid": false, "title": null}}}},
  {"data": {"values": [{}]}, "mark": "point", "encoding": {"y": {"datum": 0, "type": "quantitative", "scale": {"domain": [0, 101], "nice": false}, "axis": {"orient": "left", "values": [0], "tickSize": 50, "labelPadding": -34, "domain": false, "grid": false, "title": null}}}},
  {"data": {"values": [{}]}, "mark": "point", "encoding": {"y": {"datum": 0, "type": "quantitative", "scale": {"domain": [0, 39.6], "nice": false}, "axis": {"orient": "right", "values": [10, 20], "tickSize": 5, "labels": false, "domain": false, "grid": false, "title": null}}}},
  {"transform": [{"filter": {"field": "t", "equal": {"year":2015,"month":2,"date":8,"hours":12}}}], "mark": {"type": "text", "text": "OOA-1"}, "encoding": {"y": {"datum": 80, "type": "quantitative", "scale": {"domain": [0, 101], "nice": false}, "axis": null}}}
 ]
}
]
}
